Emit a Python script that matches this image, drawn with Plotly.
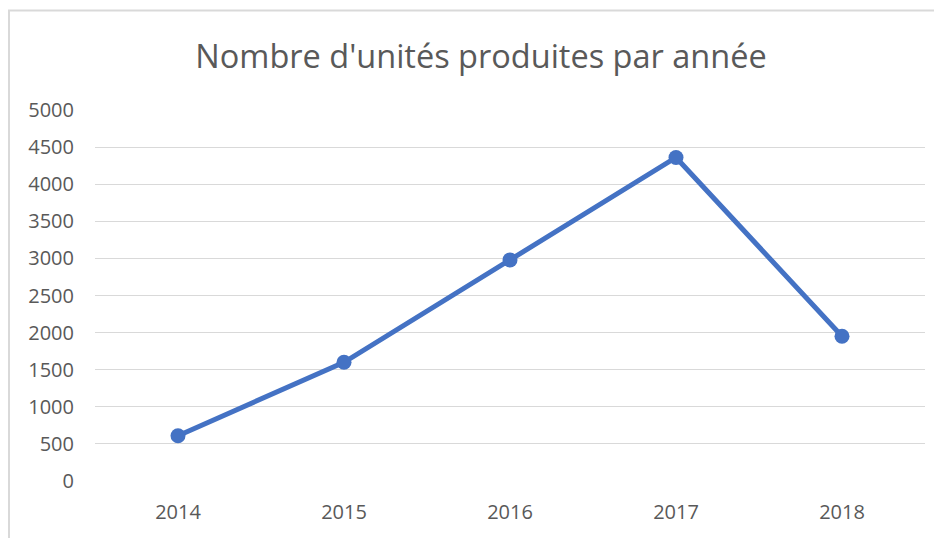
import plotly.graph_objects as go

years = ["2014", "2015", "2016", "2017", "2018"]
units = [610, 1600, 2980, 4360, 1950]
y_ticks = [0, 500, 1000, 1500, 2000, 2500, 3000, 3500, 4000, 4500, 5000]
title_text = "Nombre d'unités produites par année"

# page has an 8px body margin; figure coordinates = page coordinates - 8
OFF = 8
W, H = 942 - OFF, 538 - OFF
L, T = 95 - OFF, 110 - OFF
R = W - (925 - OFF)
B = H - (481 - OFF)
pw, ph = W - L - R, H - T - B

def px(x):
    return (x - OFF - L) / pw

def py(y):
    return (H - B - (y - OFF)) / ph

fig = go.Figure()
fig.add_trace(go.Scatter(
    x=years, y=units, mode="lines+markers",
    line=dict(color="#4472C4", width=5),
    marker=dict(color="#4472C4", size=15),
    showlegend=False, cliponaxis=False,
))

border = "#D9D9D9"
fig.update_layout(
    width=W, height=H,
    margin=dict(l=L, r=R, t=T, b=B),
    paper_bgcolor="white", plot_bgcolor="white",
    font=dict(family="Open Sans", color="#595959", size=20),
    title=dict(text=title_text, x=(481 - OFF) / W, xref="container", xanchor="center",
               y=1 - (57 - OFF) / H, yref="container", yanchor="middle",
               font=dict(family="Open Sans", size=32.5, color="#595959")),
    xaxis=dict(type="category", range=[-0.5, 4.5], showgrid=False, showline=False,
               zeroline=False, ticks="", ticklabelstandoff=17,
               tickfont=dict(size=20, color="#595959")),
    yaxis=dict(range=[0, 5000], tickvals=y_ticks, showgrid=True, gridcolor="#D9D9D9",
               gridwidth=1.3, zeroline=False, showline=False, ticks="",
               ticklabelstandoff=20, tickfont=dict(size=20, color="#595959")),
    shapes=[
        dict(type="line", xref="paper", yref="paper", x0=px(8), x1=px(942), y0=py(10.5), y1=py(10.5),
             line=dict(color=border, width=2)),
        dict(type="line", xref="paper", yref="paper", x0=px(9), x1=px(9), y0=py(10.5), y1=py(538),
             line=dict(color=border, width=2)),
    ],
)

fig.write_html("out.html")
